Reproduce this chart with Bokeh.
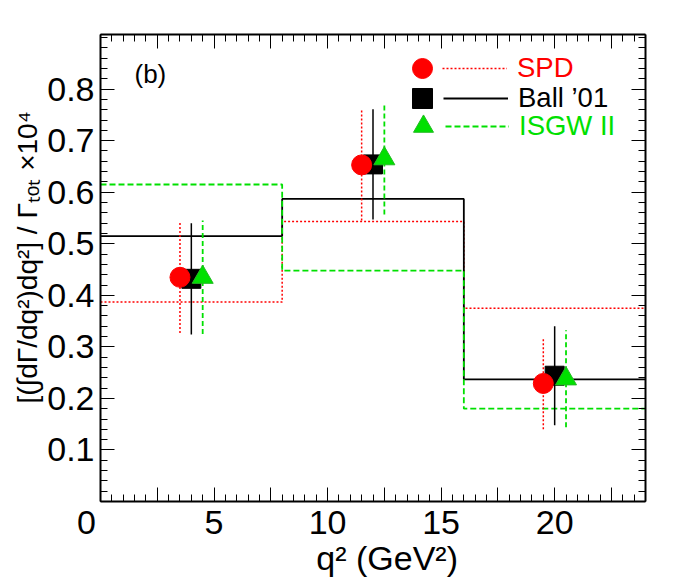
import math
from bokeh.plotting import figure
from bokeh.models import (LinearAxis, FixedTicker, Label, Legend, LegendItem, Range1d,
                          CustomJSTickFormatter, Title)
from bokeh.embed import file_html
from bokeh.resources import INLINE

# ---------------- data ----------------
bin_edges = [0, 8, 16, 24]
spd_hist = [0.387, 0.543, 0.375]
ball_hist = [0.515, 0.587, 0.237]
isgw_hist = [0.615, 0.448, 0.180]

spd_x = [3.5, 11.5, 19.5]
spd_y = [0.435, 0.653, 0.229]
spd_err = [0.108, 0.108, 0.089]

ball_x = [4.0, 12.0, 20.0]
ball_y = [0.432, 0.654, 0.244]
ball_err = [0.108, 0.107, 0.096]

isgw_x = [4.5, 12.5, 20.5]
isgw_y = [0.435, 0.665, 0.238]
isgw_err = [0.110, 0.108, 0.094]

x_major = [i * 2.5 for i in range(10)]
x_minor = [i * 0.5 for i in range(49)]
y_major = [round(i * 0.1, 1) for i in range(1, 9)]
y_minor = [round(i * 0.02, 2) for i in range(46)]

x_title = "\u00a0\u00a0\u00a0q\u00b2 (GeV\u00b2)"
y_title = "[(\u222bd\u0393/dq\u00b2)dq\u00b2] / \u0393\u209c\u2092\u209c \u00d710\u2074"

RED = "#ff0000"
BLACK = "#000000"
GREEN = "#00e000"
FONT = "Liberation Sans"

W, H = 672, 579
KX, KY = W / 680, H / 587


def fx(px):
    return px * KX


def fy(py):
    return py * KY

FL, FR, FT, FB = 100, 645, 34, 504

p = figure(width=W, height=H, x_range=Range1d(0, 24), y_range=Range1d(0, 0.906),
           output_backend="svg", toolbar_location=None,
           x_axis_type=None, y_axis_type=None,
           min_border_left=FL, min_border_right=W - FR, min_border_top=FT,
           min_border_bottom=H - FB)
p.outline_line_color = None
p.background_fill_color = "white"


def style_axis(ax, labels, standoff=6):
    ax.axis_line_width = 2
    ax.axis_line_color = BLACK
    ax.major_tick_in = 14
    ax.major_tick_out = 0
    ax.minor_tick_in = 7
    ax.minor_tick_out = 0
    ax.major_tick_line_width = 1
    ax.minor_tick_line_width = 1
    ax.major_tick_line_color = BLACK
    ax.minor_tick_line_color = BLACK
    if labels:
        ax.major_label_text_font = FONT
        ax.major_label_text_font_size = "34px"
        ax.major_label_text_color = BLACK
        ax.major_label_standoff = standoff
    else:
        ax.major_label_text_font_size = "0px"
        ax.major_label_standoff = 0


xfmt = CustomJSTickFormatter(code="""
if (tick === 0) { return "0\\u00a0\\u00a0\\u00a0"; }
return (tick % 5 === 0) ? tick.toFixed(0) : '';
""")
yfmt = CustomJSTickFormatter(code="return tick.toFixed(1);")
nofmt = CustomJSTickFormatter(code="return '';")

xaxis = LinearAxis(ticker=FixedTicker(ticks=x_major, minor_ticks=x_minor), formatter=xfmt,
                   axis_label=x_title)
style_axis(xaxis, True, standoff=1)
xaxis.axis_label_text_font = FONT
xaxis.axis_label_text_font_size = "34px"
xaxis.axis_label_text_font_style = "normal"
xaxis.axis_label_text_color = BLACK
xaxis.axis_label_standoff = -5
p.add_layout(xaxis, "below")

xtop = LinearAxis(ticker=FixedTicker(ticks=x_major, minor_ticks=x_minor), formatter=nofmt)
style_axis(xtop, False)
p.add_layout(xtop, "above")
yaxis = LinearAxis(ticker=FixedTicker(ticks=y_major, minor_ticks=y_minor), formatter=yfmt)
style_axis(yaxis, True)
p.add_layout(yaxis, "left")
yright = LinearAxis(ticker=FixedTicker(ticks=y_major, minor_ticks=y_minor), formatter=nofmt)
style_axis(yright, False)
p.add_layout(yright, "right")

# y axis title in the left side panel
p.add_layout(Title(text=y_title, align="left", offset=round(FB - fy(412)),
                   text_font=FONT, text_font_size="28px", text_font_style="normal",
                   text_color=BLACK, standoff=4), "left")

# ---------------- histograms ----------------
def step_vals(v):
    return list(v) + [v[-1]]

r_spd_h = p.step(bin_edges, step_vals(spd_hist), mode="after", line_color=RED,
                 line_width=1.5, line_dash="2 2")
r_ball_h = p.step(bin_edges, step_vals(ball_hist), mode="after", line_color=BLACK,
                  line_width=1.8)
r_isgw_h = p.step(bin_edges, step_vals(isgw_hist), mode="after", line_color=GREEN,
                  line_width=1.8, line_dash="6 3")

# ---------------- error bars ----------------
def lo(y, e):
    return [a - b for a, b in zip(y, e)]


def hi(y, e):
    return [a + b for a, b in zip(y, e)]

p.segment(spd_x, lo(spd_y, spd_err), spd_x, hi(spd_y, spd_err), line_color=RED,
          line_width=1.5, line_dash="2 2")
p.segment(ball_x, lo(ball_y, ball_err), ball_x, hi(ball_y, ball_err), line_color=BLACK,
          line_width=1.5)
p.segment(isgw_x, lo(isgw_y, isgw_err), isgw_x, hi(isgw_y, isgw_err), line_color=GREEN,
          line_width=1.8, line_dash="5 3")

# ---------------- markers ----------------
r_ball_m = p.scatter(ball_x, ball_y, marker="square", size=19, fill_color=BLACK, line_color=BLACK)
r_spd_m = p.scatter(spd_x, spd_y, marker="circle", size=20, fill_color=RED, line_color=RED)
r_isgw_m = p.scatter(isgw_x, isgw_y, marker="triangle", size=21, fill_color=GREEN,
                     line_color="#22bb22", line_width=1)

# ---------------- legend ----------------
LEG_DY = 3


def marker_legend(r, cx, cy):
    G = 50
    lg = Legend(items=[LegendItem(label=" ", renderers=[r])],
                location=(round(cx - G / 2 - FL), round(FB - (cy + G / 2)) - LEG_DY),
                glyph_width=G, glyph_height=G, label_height=G, label_width=1,
                label_standoff=0, padding=0, margin=0, spacing=0,
                border_line_alpha=0, background_fill_alpha=0,
                label_text_font_size="1px")
    p.add_layout(lg)


def line_legend(r, label, color, x0, x1, cy):
    HH = 36
    lg = Legend(items=[LegendItem(label=label, renderers=[r])],
                location=(round(x0 - FL), round(FB - (cy + HH / 2)) - LEG_DY),
                glyph_width=int(round(x1 - x0)), glyph_height=HH, label_height=HH,
                label_standoff=10, padding=0, margin=0, spacing=0,
                border_line_alpha=0, background_fill_alpha=0,
                label_text_color=color, label_text_font=FONT,
                label_text_font_size="27.5px")
    p.add_layout(lg)

marker_legend(r_spd_m, fx(427), fy(69))
marker_legend(r_ball_m, fx(427), fy(99))
marker_legend(r_isgw_m, fx(428), fy(128))
line_legend(r_spd_h, "SPD", RED, fx(447), fx(513), fy(69))
line_legend(r_ball_h, "Ball \u201901", BLACK, fx(448), fx(514), fy(99))
line_legend(r_isgw_h, "ISGW II", GREEN, fx(450), fx(515), fy(128))

# ---------------- panel label ----------------
p.add_layout(Label(x=round(fx(136) - FL), y=round(FB - fy(77)), x_units="screen",
                   y_units="screen", text="(b)", text_font=FONT, text_font_size="26px",
                   text_color=BLACK, text_baseline="middle"))

open("out.html", "w").write(file_html(p, INLINE))
